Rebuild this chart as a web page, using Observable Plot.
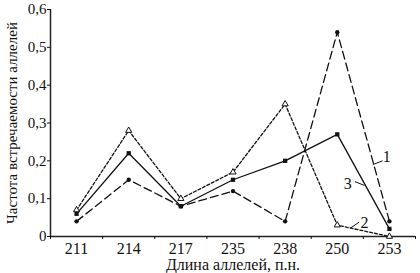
<!DOCTYPE html>
<html><head><meta charset="utf-8">
<script src="https://cdn.jsdelivr.net/npm/d3@7"></script>
<script src="https://cdn.jsdelivr.net/npm/@observablehq/plot@0.6"></script>
<style>body{margin:0;background:#fff}</style>
</head><body><div id="chart"></div>
<script>
const categories = ["211","214","217","235","238","250","253"];
const series1 = [0.04, 0.15, 0.08, 0.12, 0.04, 0.54, 0.04];
const series2 = [0.07, 0.28, 0.10, 0.17, 0.35, 0.03, 0.00];
const series3 = [0.06, 0.22, 0.08, 0.15, 0.20, 0.27, 0.02];
const yTicks = [0, 0.1, 0.2, 0.3, 0.4, 0.5, 0.6];
const labels = [
  {t:"1", x:5.95, y:0.21, x1:5.68, y1:0.19, x2:5.87, y2:0.20},
  {t:"3", x:5.2, y:0.14, x1:5.34, y1:0.145, x2:5.52, y2:0.135},
  {t:"2", x:5.52, y:0.035, x1:5.25, y1:0.022, x2:5.42, y2:0.038}
];
const rows = s => s.map((v,i)=>({i, v}));
const fmt = d => d === 0 ? "0" : d.toFixed(1).replace(".", ",");
const chart = Plot.plot({
  width: 420, height: 273,
  marginLeft: 50, marginRight: 5, marginTop: 9, marginBottom: 37,
  style: {fontFamily: "Liberation Serif", background: "#fff", color: "#111"},
  x: {domain: [-0.5, 6.5], axis: null},
  y: {domain: [0, 0.6], axis: null},
  marks: [
    Plot.ruleX([-0.5], {stroke: "#222", strokeWidth: 1.5}),
    Plot.ruleY([0], {stroke: "#222", strokeWidth: 1.5}),
    Plot.axisY({ticks: yTicks, tickFormat: fmt, tickSize: 3, fontSize: 15, tickPadding: 1,
      label: "Частота встречаемости аллелей", labelAnchor: "center", labelArrow: "none", labelOffset: 44}),
    Plot.axisX({ticks: d3.range(-0.5, 7, 1), tickFormat: () => "", tickSize: 3}),
    Plot.axisX({ticks: d3.range(0, 7), tickFormat: i => categories[i], tickSize: 0, tickPadding: 6, fontSize: 16,
      label: "Длина аллелей, п.н.", labelAnchor: "center", labelArrow: "none", labelOffset: 33}),
    Plot.line(rows(series1), {x: "i", y: "v", stroke: "#111", strokeWidth: 1.3, strokeDasharray: "8,4"}),
    Plot.line(rows(series2), {x: "i", y: "v", stroke: "#111", strokeWidth: 1.3, strokeDasharray: "3,2"}),
    Plot.line(rows(series3), {x: "i", y: "v", stroke: "#111", strokeWidth: 1.3}),
    Plot.dot(rows(series1), {x: "i", y: "v", r: 2.2, fill: "#111"}),
    Plot.dot(rows(series2), {x: "i", y: "v", r: 2.3, symbol: "triangle", fill: "#fff", stroke: "#111", strokeWidth: 1}),
    Plot.dot(rows(series3), {x: "i", y: "v", r: 2.4, symbol: "square", fill: "#111"}),
    Plot.link(labels, {x1: "x1", y1: "y1", x2: "x2", y2: "y2", stroke: "#111", strokeWidth: 1}),
    Plot.text(labels, {x: "x", y: "y", text: "t", fontSize: 16, fill: "#111"})
  ]
});
document.getElementById("chart").append(chart);
</script></body></html>
